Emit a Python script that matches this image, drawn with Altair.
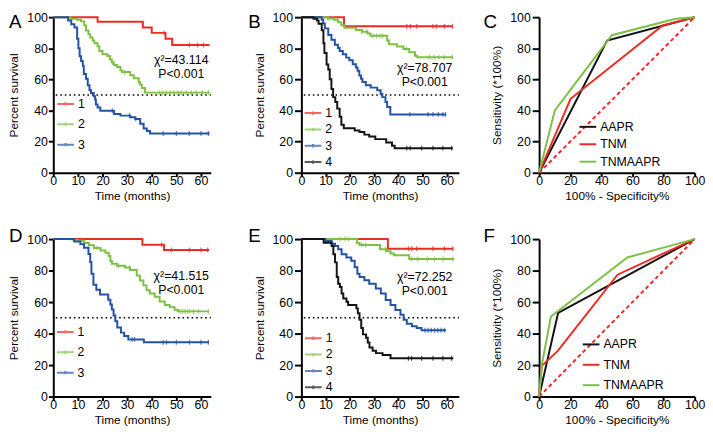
import altair as alt
import pandas as pd

FONT = "Liberation Sans"
RED = "#EC2B24"
GREEN = "#7DC143"
BLUE = "#2452A5"
BLACK = "#141414"

KM_GROUPS3 = ["1", "2", "3"]
KM_GROUPS4 = ["1", "2", "3", "4"]
ROC_MODELS = ["AAPR", "TNM", "TNMAAPR"]
KM_TICKS = [0, 10, 20, 30, 40, 50, 60]
PCT_TICKS = [0, 20, 40, 60, 80, 100]
MEDIAN_LEVEL = 50
MEDIAN_START = 1

# ---------------- Panel A ----------------
A1_t = [0, 18, 36.4, 40, 45.6, 48.3, 63.5]
A1_s = [100, 97.1, 93.4, 89.9, 86.2, 82.1, 82.1]
A1_c = [45, 55.3, 58.6, 61]
A2_t = [0, 7, 9.5, 11.3, 12.6, 13.3, 14.3, 15, 16, 16.7, 18, 18.7, 20, 22, 23, 23.7, 24.6, 26, 27.3,
        28, 31.3, 32.7, 34.7, 35.3, 36, 37.3, 63.5]
A2_s = [100, 99, 98.4, 97.3, 94.6, 91.5, 89, 87, 85, 83.3, 81.3, 78.2, 76.1, 75.1, 73, 71, 69.3, 67.9,
        65.8, 64.8, 62.7, 60.7, 58.2, 56.5, 54.5, 51.5, 51.5]
A2_c = [24, 29, 43, 44.5, 46, 47.5, 49, 50.6, 52, 54, 56, 58, 60.6, 63]
A3_t = [0, 6, 7.3, 8.6, 9.7, 10.2, 10.7, 11.3, 12, 12.4, 13.3, 14, 14.7, 15.3, 16.4, 17, 17.3, 18, 19.1,
        24.7, 27.3, 31.3, 33.3, 35.3, 36.7, 38, 39.3, 63.5]
A3_s = [100, 97.8, 95.5, 93.4, 86.2, 80, 74.9, 71.8, 68.7, 63.5, 60.4, 56.3, 53.2, 51.2, 49.1, 47, 43.9,
        41.9, 39.8, 37.7, 36.7, 35.7, 34.6, 31.5, 28.4, 26.8, 25.2, 25.2]
A3_c = [24, 31, 33.5, 44.7, 50, 55.3, 60, 63]
A_STAT = ["χ²=43.114", "P<0.001"]
A_STAT_X = [52, 52]
A_STAT_Y = [72.5, 63.5]

# ---------------- Panel B ----------------
B1_t = [0, 17.6, 62.5]
B1_s = [100, 94.1, 94.1]
B1_c = [43.5, 45, 47.6, 54.3, 55.7, 59, 62.4]
B2_t = [0, 11, 13.5, 15.1, 16.5, 17.8, 22.5, 25, 27.3, 28.5, 35.4, 36.1, 39.4, 42.1, 44.5, 46.9, 47.8, 62.5]
B2_s = [100, 99.2, 98.3, 96.8, 94.9, 93.2, 91.8, 90.7, 89.5, 88, 85, 82.6, 81.2, 79.6, 77.5, 75.2, 74.3, 74.3]
B2_c = [11, 25, 27, 29.5, 31, 32.5, 33.5, 43.3, 52.8, 54.8, 56.8, 58.9, 62.3]
B3_t = [0, 8.4, 9, 9.7, 11.1, 12.4, 13.8, 15.1, 15.8, 17.1, 18.5, 19.8, 21.2, 22.5, 23.2, 23.9, 24.6, 25.2,
        26.6, 28.6, 31.3, 32.7, 33.4, 34.7, 35.4, 36.7, 59.7]
B3_s = [100, 98.3, 96, 92.8, 88.6, 85.5, 82.3, 80.2, 78.2, 76.1, 74, 72.3, 69.8, 67.7, 65.6, 62.5, 60.4,
        58.3, 56.2, 54.7, 53, 50.8, 48.6, 45.5, 42.3, 37.5, 37.5]
B3_c = [44.8, 52.3, 54.3, 56.5, 58.4, 59.5]
B4_t = [0, 5, 6.4, 7.1, 8.4, 9.1, 9.5, 10.4, 11.1, 11.7, 12.4, 13.1, 14, 14.8, 15.8, 16.5, 17.5, 22, 24,
        26, 28, 30.5, 35, 37.4, 38.5, 62.5]
B4_s = [100, 99, 97.9, 95.8, 91.6, 83.2, 76.9, 69.6, 66.4, 60.1, 53.8, 48.6, 45.4, 41.2, 36, 30.8, 28.6,
        27.2, 26.2, 24.5, 23.3, 21.6, 19.5, 17.4, 15.8, 15.8]
B4_c = [43.5, 44.9, 49.6, 54.3, 58.4, 62]
B_STAT = ["χ²=78.707", "P<0.001"]
B_STAT_X = [50.9, 50.9]
B_STAT_Y = [67, 58]

# ---------------- Panel C (ROC) ----------------
C_AAPR_x = [0, 43.7, 100]
C_AAPR_y = [0, 84.9, 100]
C_TNM_x = [0, 20.2, 79.4, 100]
C_TNM_y = [0, 47.5, 94.7, 100]
C_TNMAAPR_x = [0, 10.1, 46.8, 87.8, 100]
C_TNMAAPR_y = [0, 40.1, 88.4, 99, 100]

# ---------------- Panel D ----------------
D1_t = [0, 36.2, 45, 63.3]
D1_s = [100, 96.4, 93.1, 93.1]
D1_c = [44, 48, 55.3, 60, 62.7]
D2_t = [0, 7.8, 9.8, 12.5, 14.5, 16.5, 19.2, 21.2, 22.5, 23.2, 23.8, 25.8, 29.2, 31.2, 33.9, 35.2, 36.6,
        37.9, 39.2, 41.2, 43.2, 45.3, 47.3, 49.3, 50.6, 63.3]
D2_s = [100, 99.5, 99, 97.5, 96.1, 94.4, 92.7, 91.3, 89.2, 86.1, 84.4, 83, 81.9, 80.3, 76.8, 73.7, 70.6,
        67.5, 65.4, 63.4, 60.3, 58.2, 56.8, 55.1, 54.1, 54.1]
D2_c = [17.8, 26.5, 31, 51.5, 52.5, 53.5, 54.5, 55.5, 57, 59, 63]
D3_t = [0, 8.5, 11, 12.5, 14.3, 15, 15.5, 16.3, 17.5, 19, 22.3, 23.2, 23.8, 24.5, 25.2, 26, 27.5, 28.8,
        30.5, 36.8, 63.3]
D3_s = [100, 98.5, 96.8, 94.5, 90.5, 85.5, 78, 71, 67.8, 64.8, 61.5, 58.5, 55.3, 51.5, 47.8, 43.8, 40.6,
        38.5, 36.3, 34.5, 34.5]
D3_c = [32, 33, 44.6, 46, 50, 55.3, 60, 63]
D_STAT = ["χ²=41.515", "P<0.001"]
D_STAT_X = [52, 52]
D_STAT_Y = [76.5, 67.5]

# ---------------- Panel E ----------------
E1_t = [0, 35.7, 62.7]
E1_s = [100, 93.9, 93.9]
E1_c = [44.2, 45.5, 47.6, 54.3, 59, 62.5]
E2_t = [0, 23, 24, 32.5, 35, 36.8, 38.2, 44.5, 63]
E2_s = [100, 97.5, 96.2, 93.5, 92.3, 90.8, 89.8, 87.4, 87.4]
E2_c = [15.9, 18, 19.4, 25, 26.5, 34.7, 45.5, 48, 52, 55, 58.5, 62.5]
E3_t = [0, 9.9, 12.5, 13.9, 15.2, 16.6, 18.6, 20.6, 22, 23.1, 24, 26, 28, 30.7, 32.8, 34.8, 36.8, 38.8,
        40.9, 42.2, 43.5, 45.6, 47.6, 49.6, 59.7]
E3_s = [100, 98.8, 97.1, 95.6, 93.5, 90.4, 88.3, 86.3, 82.1, 78, 75.9, 73.8, 71.7, 68.6, 65.4, 61.3, 58.2,
        55, 51.9, 48.8, 46.3, 44.6, 43.6, 42.1, 42.1]
E3_c = [51, 52.3, 53.6, 55, 56.3, 57.6, 59]
E4_t = [0, 9.2, 12.5, 13.2, 13.9, 14.6, 15.2, 15.9, 16.6, 17.3, 18.6, 19.3, 22.7, 23.3, 24, 24.7, 25.4,
        26.7, 27.4, 28.1, 29.4, 30.8, 33.5, 36.8, 62.7]
E4_s = [100, 97.7, 95.6, 90.4, 85.2, 75.9, 71.7, 69.6, 65.4, 62.3, 60.2, 58.1, 56, 52.9, 48.8, 43.6, 39.5,
        37.4, 34.3, 31.2, 29.1, 27.6, 26.4, 24.3, 24.3]
E4_c = [44.2, 45.5, 49.6, 54.3, 58.4, 62]
E_STAT = ["χ²=72.252", "P<0.001"]
E_STAT_X = [50.9, 50.9]
E_STAT_Y = [76, 67]

# ---------------- Panel F (ROC) ----------------
F_AAPR_x = [0, 12.2, 100]
F_AAPR_y = [0, 53.1, 100]
F_TNM_x = [0, 1.7, 12, 50.4, 100]
F_TNM_y = [0, 19.5, 29, 77.4, 100]
F_TNMAAPR_x = [0, 1.7, 7.6, 56.7, 100]
F_TNMAAPR_y = [0, 20, 50.8, 88.3, 100]

DIAG_X = [0, 100]
DIAG_Y = [0, 100]

KM_SYMBOL = "M-1,0H1M0,-0.2V0.2"
LINE_SYMBOL = "M-1,0H1"


def surv_at(ts, ss, x):
    val = ss[0]
    for t, s in zip(ts, ss):
        if t <= x:
            val = s
    return val


def make_legend(leg_xy, rowpad, symbol):
    return alt.Legend(title=None, orient="none", legendX=leg_xy[0], legendY=leg_xy[1], padding=0,
                      rowPadding=rowpad, symbolType=symbol, symbolSize=289,
                      symbolStrokeWidth=2, labelFont=FONT, labelFontSize=12.5,
                      labelColor="black", labelOffset=3)


def letter_layer(letter, letter_xy):
    return alt.Chart(pd.DataFrame({"label": [letter]})).mark_text(
        font=FONT, fontSize=19, color="black", align="left", baseline="top").encode(
        x=alt.value(letter_xy[0]), y=alt.value(letter_xy[1]), text="label:N")


def km_panel(groups, colors, curves, censors, stat, stat_x, stat_y, letter, letter_xy,
             xmax, w, h, leg_xy, leg_rowpad, ytick):
    xsc = alt.Scale(domain=[0, xmax], nice=False, zero=False, padding=0)
    ysc = alt.Scale(domain=[0, 100], nice=False, zero=False, padding=0)
    xax = alt.Axis(values=KM_TICKS, title="Time (months)", labelFlush=False)
    yax = alt.Axis(values=PCT_TICKS, title="Percent survival", labelFlush=False,
                   tickSize=ytick[0], labelPadding=ytick[1], titlePadding=6)
    color = alt.Color("group:N", scale=alt.Scale(domain=groups, range=colors),
                      legend=make_legend(leg_xy, leg_rowpad, KM_SYMBOL))

    rows = []
    crow = []
    for g, (ts, ss), cs in zip(groups, curves, censors):
        for t, s in zip(ts, ss):
            rows.append({"group": g, "t": t, "s": s})
        for c in cs:
            crow.append({"group": g, "t": c, "s": surv_at(ts, ss, c)})
    line_df = pd.DataFrame(rows)
    cens_df = pd.DataFrame(crow)

    ref = alt.Chart(pd.DataFrame({"x0": [MEDIAN_START], "x1": [xmax], "y": [MEDIAN_LEVEL]})).mark_rule(
        color="black", strokeWidth=1.6, strokeDash=[1.6, 3]).encode(
        x=alt.X("x0:Q", scale=xsc, axis=xax), x2="x1:Q", y=alt.Y("y:Q", scale=ysc, axis=yax))
    lines = alt.Chart(line_df).mark_line(interpolate="step-after", strokeWidth=2).encode(
        x=alt.X("t:Q", scale=xsc, axis=xax), y=alt.Y("s:Q", scale=ysc, axis=yax), color=color)
    cens = alt.Chart(cens_df).mark_tick(orient="vertical", size=5, thickness=1.3).encode(
        x=alt.X("t:Q", scale=xsc, axis=xax), y=alt.Y("s:Q", scale=ysc, axis=yax), color=color)
    txt = alt.Chart(pd.DataFrame({"x": stat_x, "y": stat_y, "label": stat})).mark_text(
        font=FONT, fontSize=12.5, color="black", align="center", baseline="middle").encode(
        x=alt.X("x:Q", scale=xsc, axis=xax), y=alt.Y("y:Q", scale=ysc, axis=yax), text="label:N")
    return alt.layer(ref, lines, cens, txt, letter_layer(letter, letter_xy)).properties(width=w, height=h)


def roc_panel(curves, letter, letter_xy, w, h, leg_xy, leg_rowpad):
    xsc = alt.Scale(domain=[0, 100], nice=False, zero=False, padding=0)
    ysc = alt.Scale(domain=[0, 100], nice=False, zero=False, padding=0)
    xax = alt.Axis(values=PCT_TICKS, title="100% - Specificity%", labelFlush=False)
    yax = alt.Axis(values=PCT_TICKS, title="Sensitivity (*100%)", labelFlush=False,
                   tickSize=7, labelPadding=2, titlePadding=6)
    color = alt.Color("model:N", scale=alt.Scale(domain=ROC_MODELS, range=[BLACK, RED, GREEN]),
                      legend=make_legend(leg_xy, leg_rowpad, LINE_SYMBOL))
    rows = []
    for m, (xs, ys) in zip(ROC_MODELS, curves):
        for i, (x, y) in enumerate(zip(xs, ys)):
            rows.append({"model": m, "x": x, "y": y, "i": i})
    diag = alt.Chart(pd.DataFrame({"x": DIAG_X, "y": DIAG_Y})).mark_line(
        color=RED, strokeWidth=2, strokeDash=[4, 3]).encode(
        x=alt.X("x:Q", scale=xsc, axis=xax), y=alt.Y("y:Q", scale=ysc, axis=yax))
    lines = alt.Chart(pd.DataFrame(rows)).mark_line(strokeWidth=2).encode(
        x=alt.X("x:Q", scale=xsc, axis=xax), y=alt.Y("y:Q", scale=ysc, axis=yax), color=color,
        order="i:Q")
    return alt.layer(diag, lines, letter_layer(letter, letter_xy)).properties(width=w, height=h)


pA = km_panel(KM_GROUPS3, [RED, GREEN, BLUE], [(A1_t, A1_s), (A2_t, A2_s), (A3_t, A3_s)],
              [A1_c, A2_c, A3_c], A_STAT, A_STAT_X, A_STAT_Y, "A", (-45, -3.5), 64, 160, 158,
              (3, 78.6), 4.7, (5, 1))
pB = km_panel(KM_GROUPS4, [RED, GREEN, BLUE, BLACK],
              [(B1_t, B1_s), (B2_t, B2_s), (B3_t, B3_s), (B4_t, B4_s)],
              [B1_c, B2_c, B3_c, B4_c], B_STAT, B_STAT_X, B_STAT_Y, "B", (-54, -3.5), 65, 160, 158,
              (2.3, 87.9), 0.6, (7, 2))
pC = roc_panel([(C_AAPR_x, C_AAPR_y), (C_TNM_x, C_TNM_y), (C_TNMAAPR_x, C_TNMAAPR_y)],
               "C", (-56.5, -3.5), 158, 158, (40, 101.9), 1.7)
pD = km_panel(KM_GROUPS3, [RED, GREEN, BLUE], [(D1_t, D1_s), (D2_t, D2_s), (D3_t, D3_s)],
              [D1_c, D2_c, D3_c], D_STAT, D_STAT_X, D_STAT_Y, "D", (-45, -12.5), 64, 160, 160,
              (2.7, 84.8), 4.7, (5, 1))
pE = km_panel(KM_GROUPS4, [RED, GREEN, BLUE, BLACK],
              [(E1_t, E1_s), (E2_t, E2_s), (E3_t, E3_s), (E4_t, E4_s)],
              [E1_c, E2_c, E3_c, E4_c], E_STAT, E_STAT_X, E_STAT_Y, "E", (-54, -12.5), 65, 160, 160,
              (2.7, 91.2), 0.6, (7, 2))
pF = roc_panel([(F_AAPR_x, F_AAPR_y), (F_TNM_x, F_TNM_y), (F_TNMAAPR_x, F_TNMAAPR_y)],
               "F", (-56.5, -12.5), 158, 160, (43.3, 97.5), 4.7)

row1 = alt.hconcat(alt.hconcat(pA, pB, spacing=35).resolve_scale(color="independent"), pC,
                   spacing=23.5).resolve_scale(color="independent")
row2 = alt.hconcat(alt.hconcat(pD, pE, spacing=35).resolve_scale(color="independent"), pF,
                   spacing=23.5).resolve_scale(color="independent")

chart = alt.vconcat(row1, row2, spacing=24.4).resolve_scale(color="independent").properties(
    padding=0
).configure_axis(
    domainColor="black", domainWidth=2, tickColor="black", tickWidth=2, grid=False,
    labelFont=FONT, labelFontSize=12.5, labelColor="black", titleFont=FONT, titleFontSize=12,
    titleFontWeight="normal", titleColor="black"
).configure_axisX(
    tickSize=4, labelPadding=4, labelBaseline="middle", titlePadding=4
).configure_view(strokeWidth=0)

chart.save("out.html", embed_options={"renderer": "svg", "actions": False})
